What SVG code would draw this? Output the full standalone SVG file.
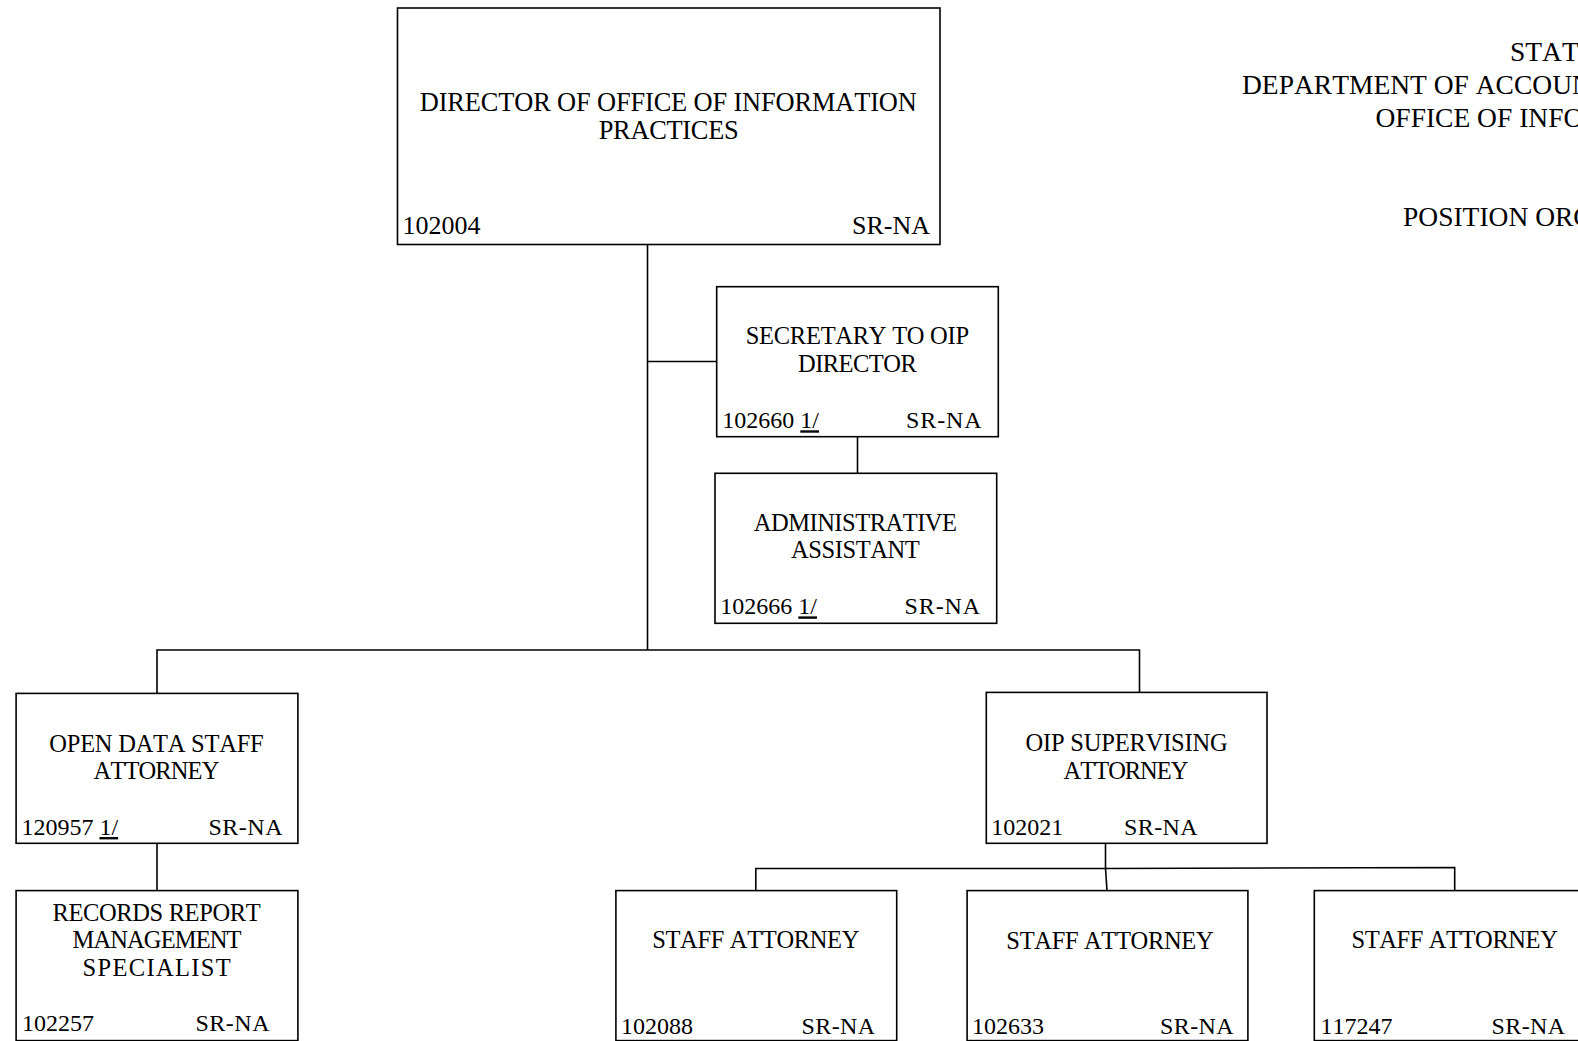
<svg xmlns="http://www.w3.org/2000/svg" width="1578" height="1041" viewBox="0 0 1578 1041">
<style>
  text { font-family: "Liberation Serif", "Times New Roman", serif; fill: #000; font-kerning: none; }
  .t { font-size: 24.5px; text-anchor: middle; }
  .td { font-size: 26.4px; text-anchor: middle; }
  .n { font-size: 24px; text-anchor: start; }
  .g { font-size: 24px; text-anchor: end; }
  .h { font-size: 27.5px; text-anchor: start; }
  .box { fill: #fff; stroke: #000; stroke-width: 1.6; }
  .ln { fill: none; stroke: #000; stroke-width: 1.6; }
</style>
<rect width="1578" height="1041" fill="#fff"/>

<g id="title">
  <text class="h" x="1510" y="60.6">STATE</text>
  <text class="h" x="1242" y="93.5">DEPARTMENT OF ACCOUN</text>
  <text class="h" x="1375.5" y="126.8">OFFICE OF INFO</text>
  <text class="h" x="1403" y="225.5">POSITION ORG</text>
</g>

<g id="connectors">
  <path class="ln" d="M647.5 244.5 V650"/>
  <path class="ln" d="M647.5 361.5 H716.5"/>
  <path class="ln" d="M857.5 436.8 V473.3"/>
  <path class="ln" d="M157 693.4 V650 H1139.5 V692.4"/>
  <path class="ln" d="M157 843.3 V890.6"/>
  <path class="ln" d="M1105.5 843.3 V868"/>
  <path class="ln" d="M755.8 890.6 V868.5 H1105.5 L1454.7 867.5 V890.6"/>
  <path class="ln" d="M1105.5 868 L1107 890.6"/>
</g>

<g id="director">
  <rect class="box" x="397.5" y="8" width="542.5" height="236.5"/>
  <text class="td" x="668.3" y="110.7" textLength="497" lengthAdjust="spacing">DIRECTOR OF OFFICE OF INFORMATION</text>
  <text class="td" x="668.7" y="139" textLength="140" lengthAdjust="spacing">PRACTICES</text>
  <text class="n" x="402.5" y="233.5" style="font-size:26px">102004</text>
  <text class="g" x="930" y="233.5" style="font-size:26px">SR-NA</text>
</g>

<g id="secretary">
  <rect class="box" x="716.7" y="286.7" width="281.6" height="150"/>
  <text class="t" x="857.4" y="344" textLength="223.4" lengthAdjust="spacing">SECRETARY TO OIP</text>
  <text class="t" x="857.4" y="372.3" textLength="118.8" lengthAdjust="spacing">DIRECTOR</text>
  <text class="n" x="722.3" y="428.3">102660 <tspan text-decoration="underline">1/</tspan></text>
  <text class="g" x="982.5" y="428.3" letter-spacing="0.9">SR-NA</text>
</g>

<g id="admin-assistant">
  <rect class="box" x="715" y="473.3" width="281.7" height="150"/>
  <text class="t" x="855.4" y="530.7" textLength="203.3" lengthAdjust="spacing">ADMINISTRATIVE</text>
  <text class="t" x="855.4" y="558.3" textLength="128.8" lengthAdjust="spacing">ASSISTANT</text>
  <text class="n" x="720.3" y="614.4">102666 <tspan text-decoration="underline">1/</tspan></text>
  <text class="g" x="981" y="614.4" letter-spacing="0.9">SR-NA</text>
</g>

<g id="open-data-attorney">
  <rect class="box" x="16.1" y="693.4" width="281.8" height="149.9"/>
  <text class="t" x="156.5" y="751.5" textLength="214.4" lengthAdjust="spacing">OPEN DATA STAFF</text>
  <text class="t" x="156.5" y="779.3" textLength="125.8" lengthAdjust="spacing">ATTORNEY</text>
  <text class="n" x="21.5" y="835">120957 <tspan text-decoration="underline">1/</tspan></text>
  <text class="g" x="283" y="835" letter-spacing="0.5">SR-NA</text>
</g>

<g id="records-specialist">
  <rect class="box" x="16.1" y="890.6" width="281.8" height="150"/>
  <text class="t" x="156.6" y="920.5" textLength="208.3" lengthAdjust="spacing">RECORDS REPORT</text>
  <text class="t" x="157" y="948.3" textLength="169" lengthAdjust="spacing">MANAGEMENT</text>
  <text class="t" x="156.6" y="976.2" textLength="148" lengthAdjust="spacing">SPECIALIST</text>
  <text class="n" x="22" y="1031">102257</text>
  <text class="g" x="270" y="1031" letter-spacing="0.5">SR-NA</text>
</g>

<g id="oip-supervising-attorney">
  <rect class="box" x="986.3" y="692.4" width="280.7" height="150.9"/>
  <text class="t" x="1126.6" y="750.8" textLength="202.3" lengthAdjust="spacing">OIP SUPERVISING</text>
  <text class="t" x="1126" y="779" textLength="124.8" lengthAdjust="spacing">ATTORNEY</text>
  <text class="n" x="991.3" y="834.5">102021</text>
  <text class="n" x="1124" y="834.5" letter-spacing="0.4">SR-NA</text>
</g>

<g id="staff-attorney-102088">
  <rect class="box" x="615.9" y="890.6" width="280.8" height="150"/>
  <text class="t" x="755.8" y="947.5" textLength="207.3" lengthAdjust="spacing">STAFF ATTORNEY</text>
  <text class="n" x="621" y="1033.5">102088</text>
  <text class="g" x="875.5" y="1033.5" letter-spacing="0.4">SR-NA</text>
</g>

<g id="staff-attorney-102633">
  <rect class="box" x="967.1" y="890.6" width="280.8" height="150"/>
  <text class="t" x="1110" y="948.5" textLength="207.3" lengthAdjust="spacing">STAFF ATTORNEY</text>
  <text class="n" x="972" y="1034">102633</text>
  <text class="g" x="1234" y="1034" letter-spacing="0.4">SR-NA</text>
</g>

<g id="staff-attorney-117247">
  <rect class="box" x="1314.3" y="890.6" width="281" height="150"/>
  <text class="t" x="1454.7" y="947.5" textLength="206.3" lengthAdjust="spacing">STAFF ATTORNEY</text>
  <text class="n" x="1320.5" y="1033.5">117247</text>
  <text class="g" x="1565.5" y="1033.5" letter-spacing="0.4">SR-NA</text>
</g>
</svg>
